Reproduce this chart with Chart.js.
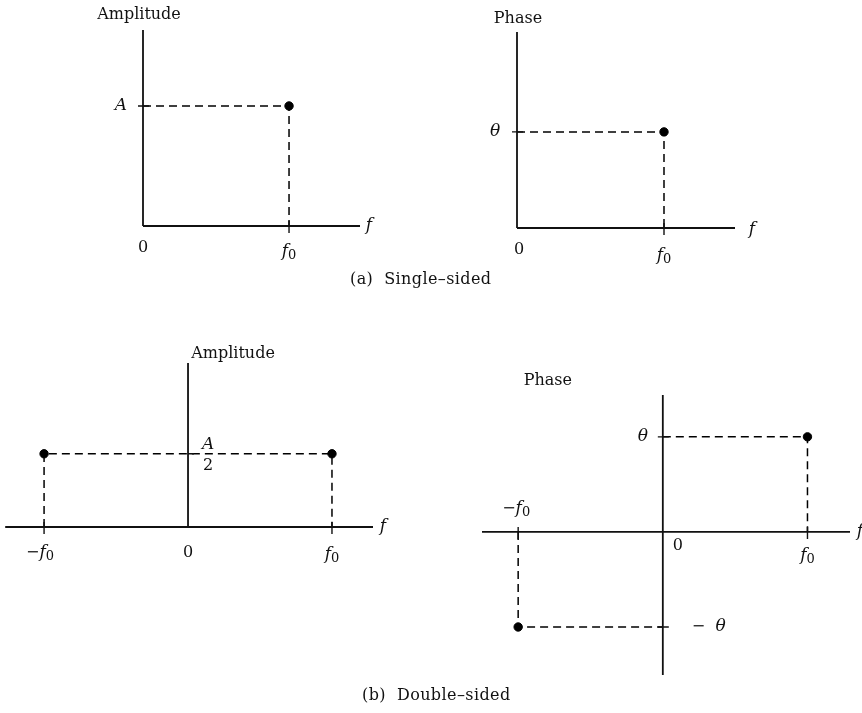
<!DOCTYPE html>
<html>
<head>
<meta charset="utf-8">
<script src="https://cdn.jsdelivr.net/npm/chart.js@4.4.1/dist/chart.umd.min.js"></script>
<style>
  body { margin: 0; background: #fff; }
  #page { position: relative; width: 862px; height: 713px; overflow: hidden; }
  canvas { position: absolute; }
  .caption { position: absolute; font: 16px "DejaVu Serif", serif; letter-spacing: 0.4px; color: #111; white-space: pre; }
</style>
</head>
<body>
<div id="page">
  <canvas id="ampSingle" width="310" height="275" style="left:80px;top:0px"></canvas>
  <canvas id="phaseSingle" width="300" height="275" style="left:470px;top:0px"></canvas>
  <canvas id="ampDouble" width="400" height="245" style="left:0px;top:330px"></canvas>
  <canvas id="phaseDouble" width="400" height="335" style="left:462px;top:355px"></canvas>
  <div class="caption" style="left:350px;top:269px">(a)  Single–sided</div>
  <div class="caption" style="left:362px;top:685px">(b)  Double–sided</div>
</div>
<script>
// spectrum values, in units of f0, A and theta
const singleFreq = [1];            // f0
const singleAmplitude = [1];       // A
const singlePhase = [1];           // theta
const doubleFreq = [-1, 1];        // -f0, f0
const doubleAmplitude = [0.5, 0.5]; // A/2
const doublePhase = [-1, 1];       // -theta, theta

const INK = "#111";
const FONT = '"DejaVu Serif", serif';

// draw a little math label: parts are [text, style], style i = italic, r = roman, s = subscript, t = title
function drawMath(ctx, parts, x, y, align) {
  const fontOf = (st) =>
    st === "i" ? `italic 17px ${FONT}` : st === "s" ? `13px ${FONT}` :
    st === "t" ? `16px ${FONT}` : `16px ${FONT}`;
  let w = 0;
  parts.forEach(([t, st]) => { ctx.font = fontOf(st); w += ctx.measureText(t).width; });
  let cx = align === "left" ? x : align === "right" ? x - w : x - w / 2;
  ctx.textBaseline = "middle";
  ctx.textAlign = "left";
  parts.forEach(([t, st]) => {
    ctx.font = fontOf(st);
    ctx.fillText(t, cx, st === "s" ? y + 4 : y);
    cx += ctx.measureText(t).width;
  });
}

const figureAxes = {
  id: "figureAxes",
  afterDatasetsDraw(chart, args, o) {
    const { ctx, chartArea: a } = chart;
    const sx = chart.scales.x, sy = chart.scales.y;
    const x0 = sx.getPixelForValue(0), y0 = sy.getPixelForValue(0);
    ctx.save();
    ctx.strokeStyle = INK;
    ctx.fillStyle = INK;
    ctx.lineWidth = 1.8;
    ctx.beginPath();
    ctx.moveTo(a.left, y0); ctx.lineTo(a.right, y0);
    ctx.moveTo(x0, a.top); ctx.lineTo(x0, a.bottom);
    ctx.stroke();
    ctx.lineWidth = 1.4;
    ctx.beginPath();
    (o.xTicks || []).forEach((v) => {
      const px = sx.getPixelForValue(v);
      ctx.moveTo(px, y0 - 5); ctx.lineTo(px, y0 + 7);
    });
    (o.yTicks || []).forEach((v) => {
      const py = sy.getPixelForValue(v);
      ctx.moveTo(x0 - (o.yTickLeft ?? 5), py); ctx.lineTo(x0 + 6, py);
    });
    ctx.stroke();
    (o.labels || []).forEach((l) => {
      const px = l.x === "right" ? a.right : sx.getPixelForValue(l.x);
      const py = l.y === "top" ? a.top : sy.getPixelForValue(l.y);
      drawMath(ctx, l.parts, px + (l.dx || 0), py + (l.dy || 0), l.align);
    });
    if (o.fraction) {
      const f = o.fraction;
      const px = sx.getPixelForValue(f.x) + f.dx, py = sy.getPixelForValue(f.y);
      drawMath(ctx, [["A", "i"]], px, py - 9, "center");
      drawMath(ctx, [["2", "r"]], px, py + 12, "center");
    }
    ctx.restore();
  },
};

function guide(points) {
  return {
    type: "scatter",
    data: points,
    showLine: true,
    borderColor: "#000",
    borderWidth: 1.5,
    borderDash: [8, 5],
    pointRadius: 0,
    fill: false,
  };
}

function dots(points) {
  return {
    type: "scatter",
    data: points,
    pointRadius: 4.2,
    pointBackgroundColor: "#000",
    pointBorderColor: "#000",
    showLine: false,
  };
}

function makeChart(id, datasets, xr, yr, padding, axesOpts) {
  return new Chart(document.getElementById(id), {
    type: "scatter",
    data: { datasets },
    options: {
      responsive: false,
      animation: false,
      layout: { padding },
      scales: {
        x: { type: "linear", display: false, min: xr[0], max: xr[1] },
        y: { type: "linear", display: false, min: yr[0], max: yr[1] },
      },
      plugins: { legend: { display: false }, tooltip: { enabled: false }, figureAxes: axesOpts },
    },
    plugins: [figureAxes],
  });
}

const f0 = ["f", "i"], sub0 = ["0", "s"];

// (a) single-sided amplitude
makeChart(
  "ampSingle",
  [
    guide([{ x: 0, y: singleAmplitude[0] }, { x: singleFreq[0], y: singleAmplitude[0] }, { x: singleFreq[0], y: 0 }]),
    dots(singleFreq.map((f, i) => ({ x: f, y: singleAmplitude[i] }))),
  ],
  [0, 1.486], [0, 1.633],
  { left: 63, top: 30, right: 30, bottom: 49 },
  {
    xTicks: singleFreq,
    yTicks: singleAmplitude,
    labels: [
      { x: 0, y: "top", dx: -4, dy: -15, parts: [["Amplitude", "t"]] },
      { x: 0, y: singleAmplitude[0], dx: -22, parts: [["A", "i"]] },
      { x: "right", y: 0, dx: 9, parts: [["f", "i"]] },
      { x: 0, y: 0, dy: 22, parts: [["0", "r"]] },
      { x: singleFreq[0], y: 0, dy: 26, parts: [f0, sub0] },
    ],
  }
);

// (a) single-sided phase
makeChart(
  "phaseSingle",
  [
    guide([{ x: 0, y: singlePhase[0] }, { x: singleFreq[0], y: singlePhase[0] }, { x: singleFreq[0], y: 0 }]),
    dots(singleFreq.map((f, i) => ({ x: f, y: singlePhase[i] }))),
  ],
  [0, 1.483], [0, 2.04],
  { left: 47, top: 32, right: 35, bottom: 47 },
  {
    xTicks: singleFreq,
    yTicks: singlePhase,
    labels: [
      { x: 0, y: "top", dx: 1, dy: -13, parts: [["Phase", "r"]] },
      { x: 0, y: singlePhase[0], dx: -22, parts: [["θ", "i"]] },
      { x: "right", y: 0, dx: 17, dy: 2, parts: [["f", "i"]] },
      { x: 0, y: 0, dx: 2, dy: 22, parts: [["0", "r"]] },
      { x: singleFreq[0], y: 0, dy: 28, parts: [f0, sub0] },
    ],
  }
);

// (b) double-sided amplitude
makeChart(
  "ampDouble",
  [
    guide([
      { x: doubleFreq[0], y: 0 }, { x: doubleFreq[0], y: doubleAmplitude[0] },
      { x: doubleFreq[1], y: doubleAmplitude[1] }, { x: doubleFreq[1], y: 0 },
    ]),
    dots(doubleFreq.map((f, i) => ({ x: f, y: doubleAmplitude[i] }))),
  ],
  [-1.27, 1.285], [0, 1.12],
  { left: 5, top: 33, right: 27, bottom: 48 },
  {
    xTicks: doubleFreq,
    yTicks: [doubleAmplitude[0]],
    yTickLeft: 0,
    fraction: { x: 0, y: doubleAmplitude[0], dx: 20 },
    labels: [
      { x: 0, y: "top", dx: 45, dy: -9, parts: [["Amplitude", "t"]] },
      { x: "right", y: 0, dx: 10, parts: [["f", "i"]] },
      { x: doubleFreq[0], y: 0, dx: -4, dy: 26, parts: [["−", "r"], f0, sub0] },
      { x: 0, y: 0, dy: 26, parts: [["0", "r"]] },
      { x: doubleFreq[1], y: 0, dy: 28, parts: [f0, sub0] },
    ],
  }
);

// (b) double-sided phase
makeChart(
  "phaseDouble",
  [
    guide([{ x: 0, y: doublePhase[1] }, { x: doubleFreq[1], y: doublePhase[1] }, { x: doubleFreq[1], y: 0 }]),
    guide([{ x: doubleFreq[0], y: 0 }, { x: doubleFreq[0], y: doublePhase[0] }, { x: 0, y: doublePhase[0] }]),
    dots(doubleFreq.map((f, i) => ({ x: f, y: doublePhase[i] }))),
  ],
  [-1.25, 1.294], [-1.505, 1.44],
  { left: 20, top: 40, right: 12, bottom: 15 },
  {
    xTicks: doubleFreq,
    yTicks: doublePhase,
    labels: [
      { x: 0, y: "top", dx: -115, dy: -14, parts: [["Phase", "r"]] },
      { x: 0, y: doublePhase[1], dx: -20, parts: [["θ", "i"]] },
      { x: 0, y: doublePhase[0], dx: 29, align: "left", parts: [["−  ", "r"], ["θ", "i"]] },
      { x: "right", y: 0, dx: 10, parts: [["f", "i"]] },
      { x: doubleFreq[0], y: 0, dx: -2, dy: -23, parts: [["−", "r"], f0, sub0] },
      { x: 0, y: 0, dx: 15, dy: 14, parts: [["0", "r"]] },
      { x: doubleFreq[1], y: 0, dy: 24, parts: [f0, sub0] },
    ],
  }
);
</script>
</body>
</html>
